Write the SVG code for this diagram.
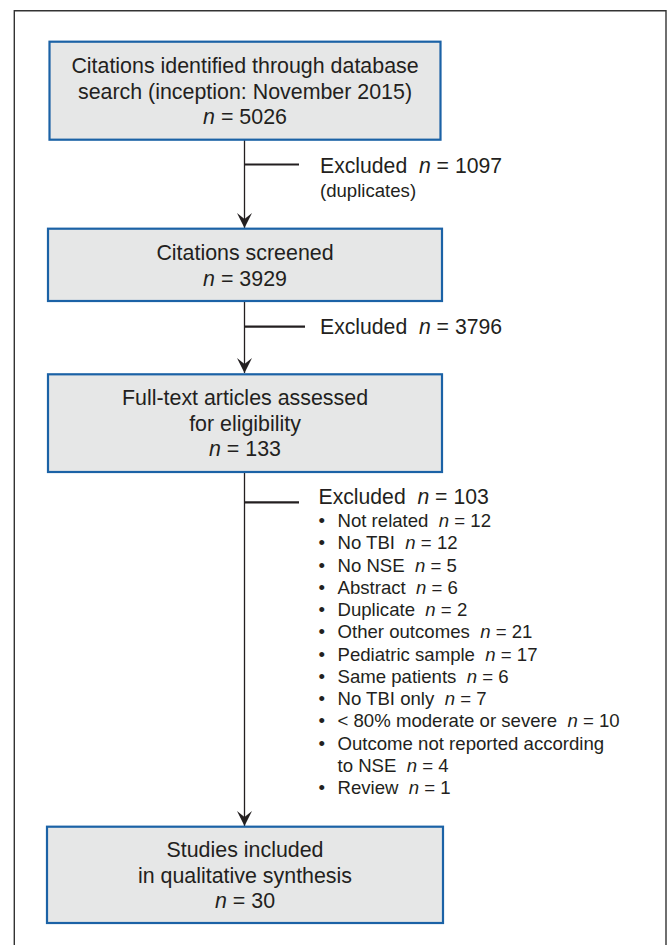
<svg xmlns="http://www.w3.org/2000/svg" width="668" height="945" viewBox="0 0 668 945" xml:space="preserve">
  <defs>
    <style>
      .box { fill: #e6e7e7; stroke: #1b62a6; stroke-width: 2.2; }
      .frame { fill: none; stroke: #333333; stroke-width: 1.4; }
      .t { font-family: "Liberation Sans", Arial, sans-serif; fill: #231f20; white-space: pre; }
      .bt { font-size: 21.4px; text-anchor: middle; }
      .ex { font-size: 21.2px; }
      .sm { font-size: 18.6px; }
      .v { stroke: #231f20; stroke-width: 1.3; fill: none; }
      .br { stroke: #231f20; stroke-width: 2.2; fill: none; }
    </style>
    <marker id="arr" markerUnits="userSpaceOnUse" markerWidth="20" markerHeight="20" viewBox="-16 -10 20 20" refX="0" refY="0" orient="auto" overflow="visible">
      <path d="M0,0 L-15,-7.5 L-9,0 L-15,7.5 Z" fill="#231f20"/>
    </marker>
  </defs>
  <rect width="668" height="945" fill="#ffffff"/>
  <path class="frame" d="M14.3,946 L14.3,10.7 L666,10.7 L666,946"/>

  <g id="connectors">
    <line class="v" x1="244.5" y1="140" x2="244.5" y2="228" marker-end="url(#arr)"/>
    <line class="br" x1="245" y1="164.5" x2="299" y2="164.5"/>
    <line class="v" x1="244.5" y1="301" x2="244.5" y2="373" marker-end="url(#arr)"/>
    <line class="br" x1="245" y1="326.7" x2="305" y2="326.7"/>
    <line class="v" x1="244.5" y1="473" x2="244.5" y2="826" marker-end="url(#arr)"/>
    <line class="br" x1="245" y1="502.3" x2="299" y2="502.3"/>
  </g>

  <g id="node-identified">
    <rect class="box" x="49.5" y="41.7" width="391" height="98"/>
    <text class="t bt" x="245" y="73">Citations identified through database</text>
    <text class="t bt" x="245" y="98.5">search (inception: November 2015)</text>
    <text class="t bt" x="245" y="124"><tspan font-style="italic">n</tspan> = 5026</text>
  </g>

  <g id="excluded-duplicates">
    <text class="t ex" x="320" y="173">Excluded  <tspan font-style="italic">n</tspan> = 1097</text>
    <text class="t sm" x="320" y="197">(duplicates)</text>
  </g>

  <g id="node-screened">
    <rect class="box" x="48" y="228.7" width="394" height="72.3"/>
    <text class="t bt" x="245" y="260">Citations screened</text>
    <text class="t bt" x="245" y="286"><tspan font-style="italic">n</tspan> = 3929</text>
  </g>

  <g id="excluded-screen">
    <text class="t ex" x="320" y="334">Excluded  <tspan font-style="italic">n</tspan> = 3796</text>
  </g>

  <g id="node-fulltext">
    <rect class="box" x="48" y="374.3" width="394" height="97.7"/>
    <text class="t bt" x="245" y="405">Full-text articles assessed</text>
    <text class="t bt" x="245" y="431">for eligibility</text>
    <text class="t bt" x="245" y="456"><tspan font-style="italic">n</tspan> = 133</text>
  </g>

  <g id="excluded-fulltext">
    <text class="t ex" x="318.5" y="503.5">Excluded  <tspan font-style="italic">n</tspan> = 103</text>
    <text class="t sm" x="318.5" y="527">•</text><text class="t sm" x="337.5" y="527">Not related  <tspan font-style="italic">n</tspan> = 12</text>
    <text class="t sm" x="318.5" y="549.3">•</text><text class="t sm" x="337.5" y="549.3">No TBI  <tspan font-style="italic">n</tspan> = 12</text>
    <text class="t sm" x="318.5" y="571.5">•</text><text class="t sm" x="337.5" y="571.5">No NSE  <tspan font-style="italic">n</tspan> = 5</text>
    <text class="t sm" x="318.5" y="593.8">•</text><text class="t sm" x="337.5" y="593.8">Abstract  <tspan font-style="italic">n</tspan> = 6</text>
    <text class="t sm" x="318.5" y="616">•</text><text class="t sm" x="337.5" y="616">Duplicate  <tspan font-style="italic">n</tspan> = 2</text>
    <text class="t sm" x="318.5" y="638.3">•</text><text class="t sm" x="337.5" y="638.3">Other outcomes  <tspan font-style="italic">n</tspan> = 21</text>
    <text class="t sm" x="318.5" y="660.5">•</text><text class="t sm" x="337.5" y="660.5">Pediatric sample  <tspan font-style="italic">n</tspan> = 17</text>
    <text class="t sm" x="318.5" y="682.8">•</text><text class="t sm" x="337.5" y="682.8">Same patients  <tspan font-style="italic">n</tspan> = 6</text>
    <text class="t sm" x="318.5" y="705">•</text><text class="t sm" x="337.5" y="705">No TBI only  <tspan font-style="italic">n</tspan> = 7</text>
    <text class="t sm" x="318.5" y="727.3">•</text><text class="t sm" x="337.5" y="727.3">&lt; 80% moderate or severe  <tspan font-style="italic">n</tspan> = 10</text>
    <text class="t sm" x="318.5" y="749.5">•</text><text class="t sm" x="337.5" y="749.5">Outcome not reported according</text>
    <text class="t sm" x="337.5" y="771.8">to NSE  <tspan font-style="italic">n</tspan> = 4</text>
    <text class="t sm" x="318.5" y="794">•</text><text class="t sm" x="337.5" y="794">Review  <tspan font-style="italic">n</tspan> = 1</text>
  </g>

  <g id="node-included">
    <rect class="box" x="47" y="826.7" width="396" height="96.3"/>
    <text class="t bt" x="245" y="857">Studies included</text>
    <text class="t bt" x="245" y="882.5">in qualitative synthesis</text>
    <text class="t bt" x="245" y="908"><tspan font-style="italic">n</tspan> = 30</text>
  </g>
</svg>
